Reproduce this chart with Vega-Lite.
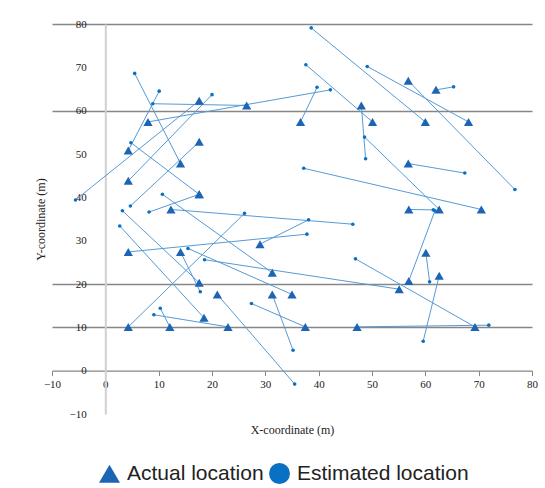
{
  "$schema": "https://vega.github.io/schema/vega-lite/v6.json",
  "width": 480,
  "height": 390,
  "padding": {"left": 34, "top": 18, "right": 5, "bottom": 2},
  "background": "white",
  "config": {
    "view": {"stroke": null},
    "font": "Liberation Serif",
    "legend": {
      "orient": "none", "direction": "horizontal",
      "legendX": 47, "legendY": 439,
      "labelFont": "Liberation Sans", "labelFontSize": 21, "labelColor": "#222222",
      "symbolSize": 440, "labelOffset": 7, "columnPadding": 5, "symbolStrokeWidth": 0, "labelLimit": 300
    }
  },
  "data": {"values": [
    {"p": 1, "type": "Actual location", "x": 26.5, "y": 61.2}, {"p": 1, "type": "Estimated location", "x": 8.9, "y": 61.6},
    {"p": 2, "type": "Actual location", "x": 17.6, "y": 62.3}, {"p": 2, "type": "Estimated location", "x": -5.6, "y": 39.4},
    {"p": 3, "type": "Actual location", "x": 4.3, "y": 43.8}, {"p": 3, "type": "Estimated location", "x": 20.0, "y": 63.7},
    {"p": 4, "type": "Actual location", "x": 14.1, "y": 47.8}, {"p": 4, "type": "Estimated location", "x": 5.5, "y": 68.6},
    {"p": 5, "type": "Actual location", "x": 4.3, "y": 50.8}, {"p": 5, "type": "Estimated location", "x": 10.1, "y": 64.5},
    {"p": 6, "type": "Actual location", "x": 17.6, "y": 40.7}, {"p": 6, "type": "Estimated location", "x": 4.8, "y": 52.6},
    {"p": 7, "type": "Actual location", "x": 17.6, "y": 52.8}, {"p": 7, "type": "Estimated location", "x": 4.7, "y": 38.0},
    {"p": 8, "type": "Actual location", "x": 8.0, "y": 57.4}, {"p": 8, "type": "Estimated location", "x": 42.2, "y": 64.8},
    {"p": 9, "type": "Actual location", "x": 17.6, "y": 40.7}, {"p": 9, "type": "Estimated location", "x": 8.2, "y": 36.6},
    {"p": 10, "type": "Actual location", "x": 36.6, "y": 57.4}, {"p": 10, "type": "Estimated location", "x": 39.7, "y": 65.4},
    {"p": 11, "type": "Actual location", "x": 60.0, "y": 57.4}, {"p": 11, "type": "Estimated location", "x": 38.6, "y": 79.1},
    {"p": 12, "type": "Actual location", "x": 50.1, "y": 57.4}, {"p": 12, "type": "Estimated location", "x": 37.6, "y": 70.6},
    {"p": 13, "type": "Actual location", "x": 68.1, "y": 57.4}, {"p": 13, "type": "Estimated location", "x": 49.1, "y": 70.2},
    {"p": 14, "type": "Actual location", "x": 56.8, "y": 66.9}, {"p": 14, "type": "Estimated location", "x": 76.8, "y": 41.8},
    {"p": 15, "type": "Actual location", "x": 62.0, "y": 64.8}, {"p": 15, "type": "Estimated location", "x": 65.3, "y": 65.5},
    {"p": 16, "type": "Actual location", "x": 48.0, "y": 61.2}, {"p": 16, "type": "Estimated location", "x": 48.8, "y": 48.9},
    {"p": 17, "type": "Actual location", "x": 62.6, "y": 37.2}, {"p": 17, "type": "Estimated location", "x": 48.6, "y": 53.9},
    {"p": 18, "type": "Actual location", "x": 56.8, "y": 47.8}, {"p": 18, "type": "Estimated location", "x": 67.4, "y": 45.6},
    {"p": 19, "type": "Actual location", "x": 70.5, "y": 37.2}, {"p": 19, "type": "Estimated location", "x": 37.2, "y": 46.7},
    {"p": 20, "type": "Actual location", "x": 4.3, "y": 27.4}, {"p": 20, "type": "Estimated location", "x": 37.8, "y": 31.5},
    {"p": 21, "type": "Actual location", "x": 29.0, "y": 29.2}, {"p": 21, "type": "Estimated location", "x": 38.1, "y": 34.8},
    {"p": 22, "type": "Actual location", "x": 12.3, "y": 37.2}, {"p": 22, "type": "Estimated location", "x": 46.4, "y": 33.8},
    {"p": 23, "type": "Actual location", "x": 31.3, "y": 22.6}, {"p": 23, "type": "Estimated location", "x": 10.7, "y": 40.7},
    {"p": 24, "type": "Actual location", "x": 17.6, "y": 20.3}, {"p": 24, "type": "Estimated location", "x": 3.2, "y": 36.9},
    {"p": 25, "type": "Actual location", "x": 18.5, "y": 12.2}, {"p": 25, "type": "Estimated location", "x": 2.7, "y": 33.4},
    {"p": 26, "type": "Actual location", "x": 4.3, "y": 10.1}, {"p": 26, "type": "Estimated location", "x": 26.1, "y": 36.3},
    {"p": 27, "type": "Actual location", "x": 14.1, "y": 27.4}, {"p": 27, "type": "Estimated location", "x": 17.8, "y": 18.2},
    {"p": 28, "type": "Actual location", "x": 35.0, "y": 17.6}, {"p": 28, "type": "Estimated location", "x": 15.5, "y": 28.2},
    {"p": 29, "type": "Actual location", "x": 55.1, "y": 18.8}, {"p": 29, "type": "Estimated location", "x": 18.6, "y": 25.6},
    {"p": 30, "type": "Actual location", "x": 21.0, "y": 17.6}, {"p": 30, "type": "Estimated location", "x": 35.5, "y": -3.1},
    {"p": 31, "type": "Actual location", "x": 31.3, "y": 17.6}, {"p": 31, "type": "Estimated location", "x": 35.2, "y": 4.7},
    {"p": 32, "type": "Actual location", "x": 37.5, "y": 10.1}, {"p": 32, "type": "Estimated location", "x": 27.4, "y": 15.5},
    {"p": 33, "type": "Actual location", "x": 23.0, "y": 10.1}, {"p": 33, "type": "Estimated location", "x": 9.1, "y": 12.9},
    {"p": 34, "type": "Actual location", "x": 12.1, "y": 10.1}, {"p": 34, "type": "Estimated location", "x": 10.3, "y": 14.4},
    {"p": 35, "type": "Actual location", "x": 47.2, "y": 10.1}, {"p": 35, "type": "Estimated location", "x": 71.9, "y": 10.5},
    {"p": 36, "type": "Actual location", "x": 69.3, "y": 10.1}, {"p": 36, "type": "Estimated location", "x": 46.9, "y": 25.8},
    {"p": 37, "type": "Actual location", "x": 56.9, "y": 37.2}, {"p": 37, "type": "Estimated location", "x": 61.5, "y": 37.1},
    {"p": 38, "type": "Actual location", "x": 56.9, "y": 20.7}, {"p": 38, "type": "Estimated location", "x": 61.8, "y": 36.9},
    {"p": 39, "type": "Actual location", "x": 60.1, "y": 27.2}, {"p": 39, "type": "Estimated location", "x": 60.8, "y": 20.5},
    {"p": 40, "type": "Actual location", "x": 62.6, "y": 21.9}, {"p": 40, "type": "Estimated location", "x": 59.6, "y": 6.8}
  ]},
  "encoding": {
    "x": {
      "field": "x", "type": "quantitative",
      "scale": {"domain": [-10, 80], "nice": false, "zero": false},
      "axis": {
        "title": "X-coordinate (m)",
        "values": [-10, 0, 10, 20, 30, 40, 50, 60, 70, 80],
        "offset": -43.4,
        "grid": false,
        "labelFlush": false,
        "domainColor": "#868686", "domainWidth": 1.3,
        "tickColor": "#868686", "tickSize": 5, "tickWidth": 1,
        "labelFont": "Liberation Serif", "labelFontSize": 11, "labelColor": "#222222", "labelPadding": 3,
        "titleFont": "Liberation Serif", "titleFontSize": 12, "titleFontWeight": "normal", "titleColor": "#222222",
        "titlePadding": 35
      }
    },
    "y": {
      "field": "y", "type": "quantitative",
      "scale": {"domain": [-10, 80], "nice": false, "zero": false},
      "axis": {
        "title": "Y-coordinate (m)",
        "values": [-10, 0, 10, 20, 30, 40, 50, 60, 70, 80],
        "offset": -53.3,
        "ticks": false,
        "labelFlush": false,
        "domainColor": "#d0d0d0", "domainWidth": 2,
        "grid": true, "gridColor": "#868686", "gridWidth": 1.3,
        "gridOpacity": {"condition": {"test": "datum.value == 80 || datum.value == 60 || datum.value == 20 || datum.value == 10", "value": 1}, "value": 0},
        "labelFont": "Liberation Serif", "labelFontSize": 11, "labelColor": "#222222", "labelPadding": 19,
        "titleFont": "Liberation Serif", "titleFontSize": 12, "titleFontWeight": "normal", "titleColor": "#222222",
        "titlePadding": 22
      }
    },
    "shape": {
      "field": "type", "type": "nominal",
      "scale": {"domain": ["Actual location", "Estimated location"], "range": ["triangle-up", "circle"]},
      "legend": {"title": null}
    },
    "color": {
      "field": "type", "type": "nominal",
      "scale": {"domain": ["Actual location", "Estimated location"], "range": ["#1c65b5", "#0a70c2"]},
      "legend": {"title": null}
    }
  },
  "layer": [
    {
      "mark": {"type": "line", "strokeWidth": 1, "color": "#559ad6"},
      "encoding": {"detail": {"field": "p", "type": "nominal"}, "color": {"value": "#559ad6"}, "shape": null}
    },
    {
      "transform": [{"filter": "datum.type == 'Actual location'"}],
      "mark": {"type": "point", "filled": true, "opacity": 1, "size": 85}
    },
    {
      "transform": [{"filter": "datum.type == 'Estimated location'"}],
      "mark": {"type": "point", "filled": true, "opacity": 1, "size": 13}
    }
  ]
}
